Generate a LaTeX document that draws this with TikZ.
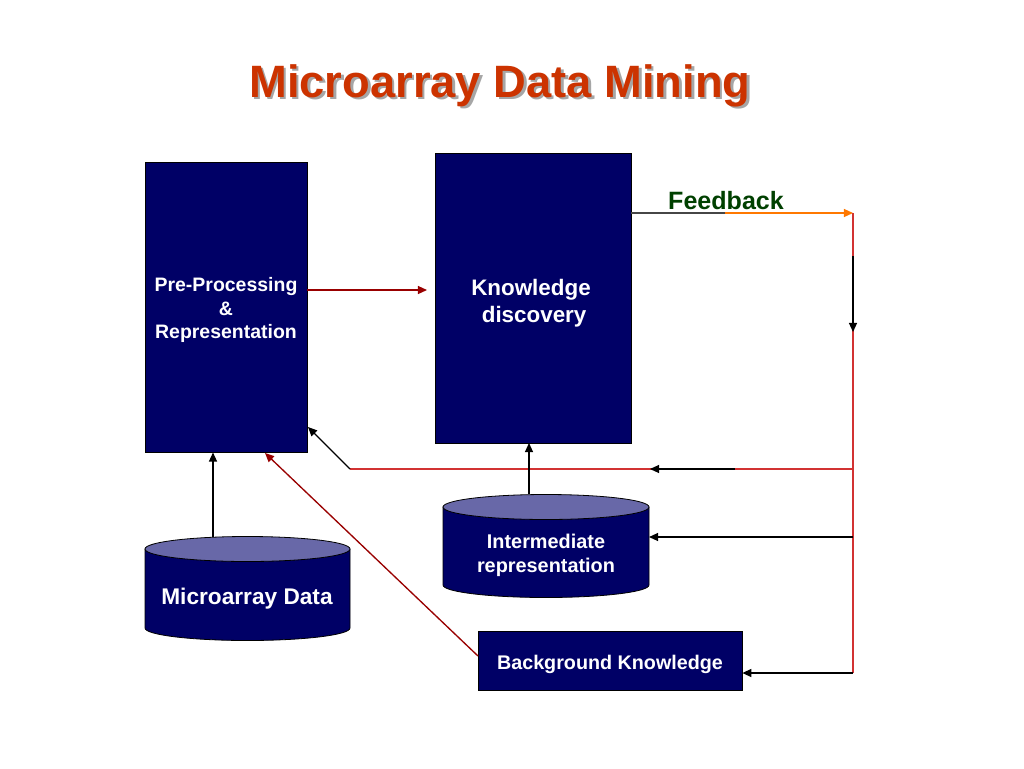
\documentclass[tikz,border=0pt]{standalone}
\usepackage{fontspec}
\setmainfont{Liberation Sans}
\usetikzlibrary{arrows.meta,calc}
\definecolor{navy}{RGB}{0,0,102}
\definecolor{cyltop}{RGB}{104,104,168}
\definecolor{titlered}{RGB}{204,51,0}
\definecolor{fbgreen}{RGB}{0,64,0}
\definecolor{darkred}{RGB}{153,0,0}
\definecolor{linered}{RGB}{210,50,50}
\definecolor{fborange}{RGB}{255,120,0}
\definecolor{fbgray}{RGB}{70,70,70}
\newcommand\mycyl[7]{%
  \path[fill=navy,draw=black,line width=0.6pt] (#1,#5) -- (#1,#6)
    arc[start angle=180,end angle=0,x radius=#4,y radius=#7] -- (#2,#5) -- cycle;
  \path[fill=cyltop,draw=black,line width=0.6pt] (#3,#5) ellipse[x radius=#4,y radius=#7];
}
\newcommand\shadowtext[1]{\makebox[0pt][l]{\kern1.9pt\raisebox{-1.9pt}{\textcolor{black!35}{#1}}}#1}
\begin{document}
\begin{tikzpicture}[x=0.75pt,y=-0.75pt,
  navybox/.style={fill=navy,draw=black,line width=0.5pt,inner sep=0pt},
  wtext/.style={text=white,font=\bfseries,align=center,inner sep=0pt},
  tip/.style={-{Triangle[length=6.8pt,width=6pt]}},
  blk/.style={draw=black,line width=1pt,tip},
  redline/.style={draw=linered,line width=0.8pt},
  drk/.style={draw=darkred,line width=1pt,tip}]
\useasboundingbox (0,0) rectangle (1024,768);
\fill[white] (0,0) rectangle (1024,768);
% title
\node[anchor=base,text=titlered,font=\bfseries\fontsize{34}{40}\selectfont,inner sep=0pt] (title) at (500,97) {\shadowtext{Microarray Data Mining}};
% boxes
\node[navybox,minimum width=121.5pt,minimum height=217.5pt] (pre) at (226,307) {};
\node[wtext,font=\bfseries\fontsize{14.6}{17.6}\selectfont] (pretext) at (226,310) {Pre-Processing\\\&\\Representation};
\node[navybox,minimum width=147pt,minimum height=217.5pt] (know) at (533,298) {};
\node[wtext,font=\bfseries\fontsize{16.8}{20.2}\selectfont] (knowtext) at (531,303) {Knowledge\\ \ discovery};
\node[navybox,minimum width=198pt,minimum height=44.25pt] (back) at (610,660.5) {};
\node[wtext,font=\bfseries\fontsize{14.8}{18}\selectfont] (backtext) at (610,664) {Background Knowledge};
% cylinders
\mycyl{145}{350}{247.5}{102.5}{549}{628}{12.5}
\node[wtext,font=\bfseries\fontsize{17}{20}\selectfont] (micro) at (247,599) {Microarray Data};
\mycyl{443}{649}{546}{103}{507}{585}{12.5}
\node[wtext,font=\bfseries\fontsize{14.9}{18}\selectfont] (inter) at (546,555) {Intermediate\\representation};
% feedback label
\node[anchor=base,text=fbgreen,font=\bfseries\fontsize{18.8}{22}\selectfont,inner sep=0pt] (fb) at (726,209) {Feedback};
% coordinates
\coordinate (fbstart) at (631,213);
\coordinate (fbmid) at (725,213);
\coordinate (fbend) at (853,213);
\coordinate (trunkbot) at (853,673);
\coordinate (dn1) at (853,256);
\coordinate (dn2) at (853,332);
\coordinate (h1r) at (853,469);
\coordinate (h1l) at (350,469);
\coordinate (h1a) at (735,469);
\coordinate (h1b) at (650,469);
\coordinate (pretip) at (308,427);
\coordinate (h2r) at (853,537);
\coordinate (intertop) at (529,494);
\coordinate (mictop) at (213,537);
\coordinate (backfrom) at (478,656);
% connectors
\draw[drk] (307,290) -- (427,290);
\draw[draw=fbgray,line width=1pt] (fbstart) -- (fbmid);
\draw[draw=fborange,line width=1pt,tip] (fbmid) -- (fbend);
\draw[redline] (fbend) -- (trunkbot);
\draw[blk] (dn1) -- (dn2);
\draw[redline] (h1r) -- (h1l);
\draw[blk] (h1a) -- (h1b);
\draw[blk] (h1l) -- (pretip);
\draw[blk] (h2r) -- (649,537);
\draw[blk] (trunkbot) -- (back.east |- trunkbot);
\draw[blk] (intertop) -- (529,443);
\draw[blk] (mictop) -- (213,452.5);
\draw[drk] (backfrom) -- (265,453);
\end{tikzpicture}
\end{document}
